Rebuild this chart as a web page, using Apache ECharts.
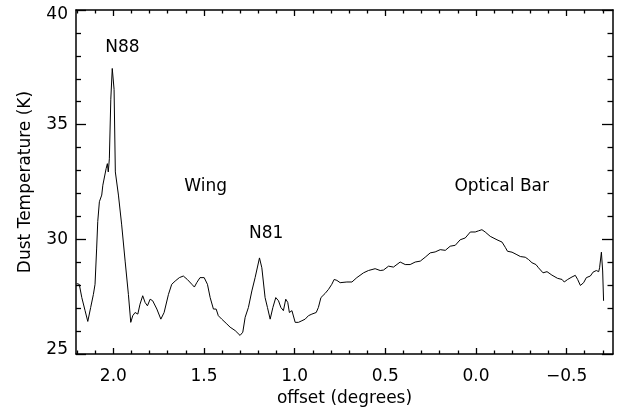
<!DOCTYPE html>
<html>
<head>
<meta charset="utf-8">
<script src="https://cdn.jsdelivr.net/npm/echarts@6/dist/echarts.min.js"></script>
<style>html,body{margin:0;padding:0;background:#fff}#c{width:627px;height:412px}</style>
</head>
<body>
<div id="c"></div>
<script>
// offset (degrees) and dust temperature (K)
const offsets = [2.202,2.188,2.174,2.156,2.141,2.125,2.110,2.101,2.092,2.086,2.077,2.064,2.058,2.051,2.040,2.033,2.028,2.022,2.014,2.006,1.996,1.989,1.972,1.954,1.935,1.917,1.904,1.893,1.880,1.865,1.853,1.838,1.825,1.812,1.797,1.783,1.760,1.738,1.720,1.696,1.678,1.659,1.636,1.614,1.592,1.567,1.553,1.540,1.522,1.499,1.481,1.466,1.448,1.433,1.421,1.402,1.374,1.356,1.328,1.301,1.286,1.273,1.255,1.236,1.218,1.194,1.181,1.163,1.150,1.135,1.120,1.104,1.089,1.076,1.062,1.049,1.038,1.029,1.015,0.997,0.979,0.960,0.942,0.924,0.905,0.881,0.869,0.855,0.832,0.813,0.795,0.782,0.767,0.749,0.740,0.712,0.684,0.657,0.620,0.593,0.556,0.528,0.510,0.482,0.455,0.418,0.390,0.363,0.335,0.307,0.280,0.252,0.225,0.197,0.169,0.142,0.114,0.087,0.059,0.031,0.004,-0.014,-0.033,-0.051,-0.079,-0.116,-0.144,-0.162,-0.174,-0.199,-0.226,-0.245,-0.272,-0.290,-0.309,-0.331,-0.345,-0.370,-0.392,-0.419,-0.450,-0.475,-0.487,-0.506,-0.530,-0.548,-0.561,-0.576,-0.594,-0.609,-0.631,-0.646,-0.664,-0.677,-0.682,-0.692,-0.699,-0.704];
const temps = [28.07,28.04,27.46,26.89,26.42,27.03,27.60,28.04,29.62,30.78,31.64,31.93,32.36,32.43,33.08,33.30,32.94,33.51,36.11,37.45,36.54,32.94,31.93,30.63,29.05,27.60,26.38,26.67,26.81,26.74,27.17,27.54,27.25,27.10,27.39,27.32,26.96,26.52,26.81,27.60,28.04,28.18,28.33,28.40,28.25,28.04,27.92,28.11,28.33,28.33,28.04,27.46,26.96,26.96,26.67,26.52,26.31,26.17,26.02,25.81,25.95,26.60,27.03,27.75,28.33,29.19,28.76,27.46,27.03,26.52,27.03,27.46,27.32,27.03,26.89,27.39,27.25,26.81,26.89,26.38,26.38,26.45,26.52,26.67,26.74,26.81,27.03,27.46,27.64,27.82,28.04,28.25,28.21,28.11,28.11,28.14,28.14,28.33,28.54,28.64,28.72,28.64,28.66,28.83,28.79,29.01,28.90,28.90,29.01,29.05,29.22,29.41,29.45,29.55,29.52,29.70,29.74,29.98,30.06,30.32,30.32,30.37,30.42,30.32,30.13,29.98,29.88,29.65,29.48,29.44,29.33,29.25,29.22,29.12,28.98,28.90,28.76,28.54,28.59,28.44,28.30,28.25,28.14,28.25,28.36,28.43,28.25,27.99,28.11,28.33,28.40,28.57,28.64,28.59,28.76,29.44,28.62,27.32];
const xMajorTicks = [2.0, 1.5, 1.0, 0.5, 0.0, -0.5];
const xMinorTicks = [2.2,2.1,1.9,1.8,1.7,1.6,1.4,1.3,1.2,1.1,0.9,0.8,0.7,0.6,0.4,0.3,0.2,0.1,-0.1,-0.2,-0.3,-0.4,-0.6,-0.7];
const yTicks = [25, 30, 35, 40];
const annoText = ['N88', 'Wing', 'N81', 'Optical Bar'];
const annoX = [1.950, 1.491, 1.157, -0.142];
const annoY = [38.35, 32.30, 30.25, 32.30];

const FONT = 'DejaVu Sans';
const FS = 17;
const X_MIN = -0.756, X_MAX = 2.206;
const fmt = v => (Math.abs(v) < 1e-9 ? '0.0' : v.toFixed(1).replace('-', '\u2212'));
const yFmt = v => (v === 40 ? '{hi|' + v + '}' : v === 25 ? '{lo|' + v + '}' : '{n|' + v + '}');
const black = '#000';

const chart = echarts.init(document.getElementById('c'), null, {renderer: 'canvas'});
const data = offsets.map((o, i) => [o, temps[i]]);

function xAxisDef(pos, ticks, len, showLine, showLabel, name) {
  return {
    type: 'value', position: pos, min: X_MIN, max: X_MAX, inverse: true,
    splitLine: {show: false},
    axisLine: {show: showLine, onZero: false, lineStyle: {color: black, width: 1.5}},
    axisTick: {show: true, inside: true, length: len, customValues: ticks, lineStyle: {color: black, width: 1.3}},
    axisLabel: {show: showLabel, customValues: ticks, formatter: fmt, color: black, fontFamily: FONT, fontSize: FS, margin: 14},
    name: name || '', nameLocation: 'middle', nameGap: 36,
    nameTextStyle: {color: black, fontFamily: FONT, fontSize: FS}
  };
}
const richBase = {color: black, fontFamily: FONT, fontSize: FS};
function yAxisDef(pos, showLabel, len, name) {
  return {
    type: 'value', position: pos, min: 25, max: 40, interval: 5,
    splitLine: {show: false},
    axisLine: {show: true, onZero: false, lineStyle: {color: black, width: 1.5}},
    axisTick: {show: true, inside: true, length: len, lineStyle: {color: black, width: 1.3}},
    minorTick: {show: true, splitNumber: 5, length: len / 2, lineStyle: {color: black, width: 1.3}},
    axisLabel: {show: showLabel, color: black, fontFamily: FONT, fontSize: FS, margin: 8,
                customValues: yTicks, formatter: yFmt,
                rich: {
                  n: Object.assign({}, richBase),
                  hi: Object.assign({padding: [9, 0, 0, 0]}, richBase),
                  lo: Object.assign({padding: [0, 0, 9, 0]}, richBase)
                }},
    name: name || '', nameLocation: 'middle', nameGap: 42,
    nameTextStyle: {color: black, fontFamily: FONT, fontSize: FS}
  };
}

chart.setOption({
  animation: false,
  backgroundColor: '#fff',
  grid: {left: 76, right: 14, top: 10, bottom: 55, containLabel: false},
  xAxis: [
    xAxisDef('bottom', xMajorTicks, 6, true, true, 'offset (degrees)'),
    xAxisDef('bottom', xMinorTicks, 3.5, false, false),
    xAxisDef('top', xMajorTicks, 6, true, false),
    xAxisDef('top', xMinorTicks, 3.5, false, false)
  ],
  yAxis: [
    yAxisDef('left', true, 10, 'Dust Temperature (K)'),
    yAxisDef('right', false, 11)
  ],
  series: [{
    type: 'line', xAxisIndex: 0, yAxisIndex: 0, data: data,
    showSymbol: false, symbol: 'none', smooth: false,
    lineStyle: {color: black, width: 1},
    markPoint: {
      symbol: 'circle', symbolSize: 0, silent: true,
      label: {show: true, position: 'inside', color: black, fontFamily: FONT, fontSize: FS,
              formatter: p => p.name},
      data: annoText.map((t, i) => ({name: t, coord: [annoX[i], annoY[i]], value: t}))
    }
  }]
});
</script>
</body>
</html>
